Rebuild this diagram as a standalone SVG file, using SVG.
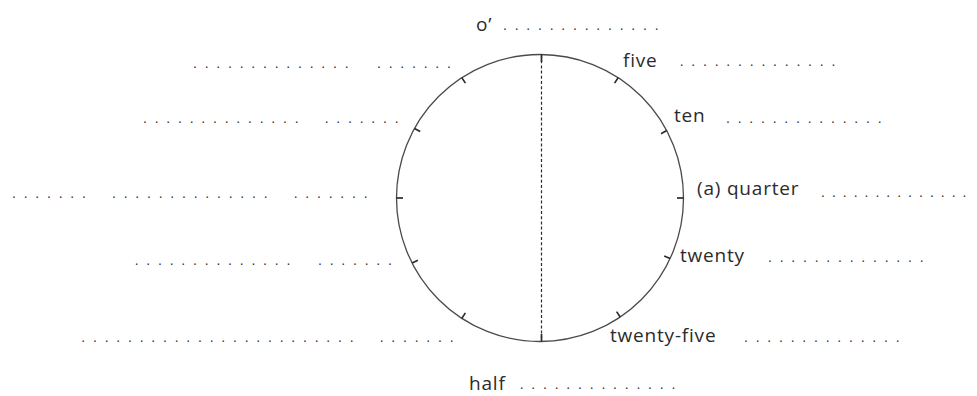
<svg xmlns="http://www.w3.org/2000/svg" width="977" height="396" viewBox="0 0 977 396">
<style>
.lbl{font-family:"Open Sans","Noto Sans",sans-serif;font-size:19px;letter-spacing:0.8px;fill:#2b2b2b}
.dots{font-family:"Liberation Sans",Arial,sans-serif;font-size:14px;letter-spacing:7.78px;fill:#333333}
.dq{letter-spacing:7.0px}
.rim{fill:none;stroke:#4a4a4a;stroke-width:1.3}
.tick{stroke:#2b2b2b;stroke-width:1.7;stroke-linecap:butt}
.axis{stroke:#2b2b2b;stroke-width:1.2;stroke-dasharray:3 2.2}
</style>
<rect width="977" height="396" fill="#ffffff"/>
<g id="clock">
<circle class="rim" cx="540" cy="198" r="143.5"/>
<line class="axis" x1="541.5" y1="55" x2="541.5" y2="341.5"/>
<g id="ticks">
<line class="tick" x1="541.5" y1="54.5" x2="541.5" y2="62"/>
<line class="tick" x1="618.2" y1="77.6" x2="614.6" y2="83.1"/>
<line class="tick" x1="666.7" y1="130.6" x2="661.0" y2="133.7"/>
<line class="tick" x1="683.5" y1="198" x2="677" y2="198"/>
<line class="tick" x1="670.1" y1="258.6" x2="664.2" y2="255.9"/>
<line class="tick" x1="620.2" y1="317.0" x2="616.6" y2="311.6"/>
<line class="tick" x1="541.5" y1="341.5" x2="541.5" y2="334"/>
<line class="tick" x1="461.8" y1="318.4" x2="465.4" y2="312.9"/>
<line class="tick" x1="412.1" y1="263.1" x2="417.9" y2="260.2"/>
<line class="tick" x1="396.5" y1="198" x2="403" y2="198"/>
<line class="tick" x1="414.5" y1="128.4" x2="420.2" y2="131.6"/>
<line class="tick" x1="461.8" y1="77.6" x2="465.4" y2="83.1"/>
</g>
</g>
<g id="labels">
<text id="t-oclock" y="31"><tspan class="lbl" x="476">o’</tspan><tspan class="dots" x="503" y="29.5">..............</tspan></text>
<text id="t-five" y="66.5"><tspan class="lbl" x="623">five</tspan><tspan class="dots" x="679.7" y="66">..............</tspan></text>
<text id="t-ten" y="121.5"><tspan class="lbl" x="674">ten</tspan><tspan class="dots" x="726" y="122.5">..............</tspan></text>
<text id="t-quarter" y="195"><tspan class="lbl" x="697">(a) quarter</tspan><tspan class="dots dq" x="821" y="196.5">..............</tspan></text>
<text id="t-twenty" y="261.5"><tspan class="lbl" x="680">twenty</tspan><tspan class="dots" x="768" y="262">..............</tspan></text>
<text id="t-twentyfive" y="342"><tspan class="lbl" x="610">twenty-five</tspan><tspan class="dots" x="744" y="342">..............</tspan></text>
<text id="t-half" y="390"><tspan class="lbl" x="469">half</tspan><tspan class="dots" x="519.7" y="389">..............</tspan></text>
</g>
<g id="left-blanks">
<text class="dots" y="67.5"><tspan x="193">..............</tspan><tspan x="377">.......</tspan></text>
<text class="dots" y="123"><tspan x="143">..............</tspan><tspan x="324.7">.......</tspan></text>
<text class="dots" y="197.5"><tspan x="12">.......</tspan><tspan x="112">..............</tspan><tspan x="293.7">.......</tspan></text>
<text class="dots" y="264.5"><tspan x="134.7">..............</tspan><tspan x="318">.......</tspan></text>
<text class="dots" y="342"><tspan x="81.3">........................</tspan><tspan x="379.7">.......</tspan></text>
</g>
</svg>
